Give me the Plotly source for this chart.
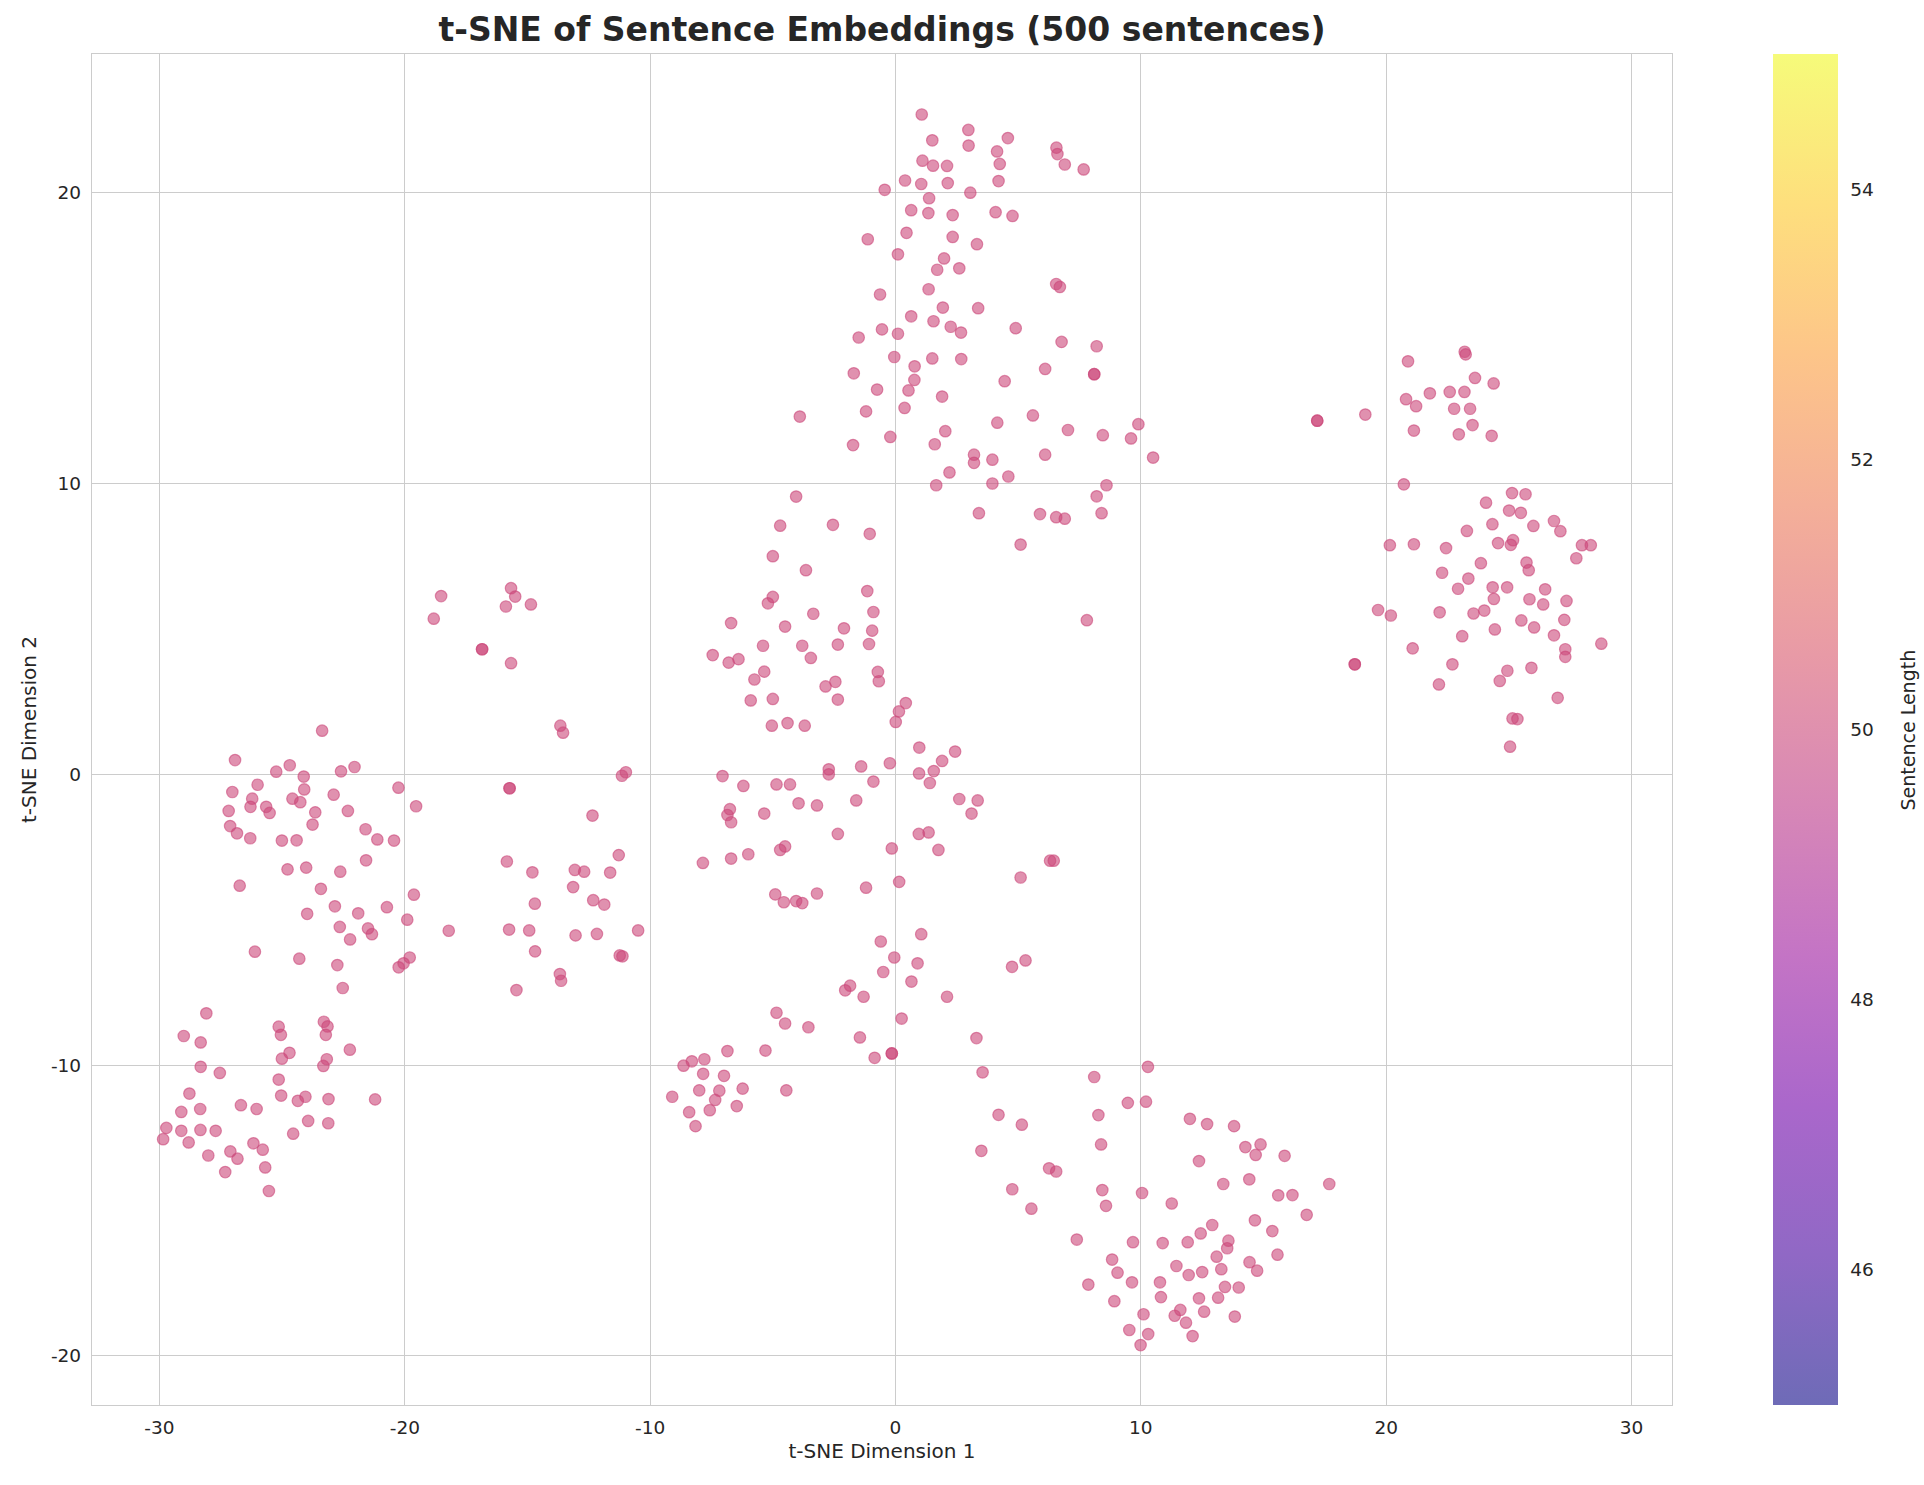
import plotly.graph_objects as go
import plotly.express as px

# ---- data (t-SNE coordinates) ----
top_x = [1.07, 2.97, 2.98, 4.58, 1.5, 4.14, 4.25, 4.2, 6.56, 6.6, 6.9, 7.67, 1.1, 1.53, 2.1, 0.39, 1.05, 2.13,
         -0.44, 3.05, 1.37, 0.64, 1.34, 2.33, 4.08, 4.77, -1.13, 0.45, 2.33, 3.32, 0.1, 1.98, 1.7, 2.6, 6.55, 6.7,
         -0.63, 1.35, 1.93, 3.37, 0.64, 1.55, -0.55, 0.1, -1.5, 2.25, 2.67, 4.9, 6.77, 8.2, -0.05, 1.5, 2.68,
         0.78, 0.77, 0.53, 6.1, 8.1, 8.1, -1.7, 4.45, -0.75, 1.9, 0.37, -1.2, 5.6, 4.15, 9.9, -0.21, 2.03, 7.03,
         8.45, 9.6, -1.73, 1.6, 10.5, 6.1, 3.2, 3.2, 3.95, 4.6, 2.2, 1.66, 3.95, 8.6, 8.2, 8.4, 3.4, 5.89, 6.55,
         6.9, 5.1, -3.9, 7.8]
top_y = [22.69, 22.16, 21.62, 21.88, 21.8, 21.42, 20.99, 20.4, 21.55, 21.33, 20.97, 20.8, 21.1, 20.93, 20.92,
         20.42, 20.3, 20.33, 20.1, 20.0, 19.81, 19.4, 19.3, 19.23, 19.33, 19.2, 18.4, 18.62, 18.48, 18.23, 17.88,
         17.74, 17.35, 17.4, 16.86, 16.76, 16.5, 16.68, 16.05, 16.03, 15.75, 15.58, 15.3, 15.15, 15.02, 15.39,
         15.19, 15.34, 14.87, 14.72, 14.35, 14.3, 14.28, 14.03, 13.56, 13.2, 13.94, 13.76, 13.76, 13.79, 13.52,
         13.23, 12.99, 12.6, 12.48, 12.34, 12.09, 12.04, 11.6, 11.8, 11.84, 11.66, 11.55, 11.32, 11.35, 10.89,
         10.99, 10.99, 10.71, 10.82, 10.24, 10.38, 9.94, 10.0, 9.94, 9.56, 8.98, 8.98, 8.95, 8.84, 8.79, 7.9,
         12.3, 5.3]

right_x = [23.2, 23.24, 20.89, 23.62, 24.38, 21.78, 22.59, 23.19, 20.81, 21.22, 22.77, 23.42, 19.15, 23.52,
           21.13, 22.96, 24.3, 17.19, 17.19, 20.72, 25.13, 25.68, 24.07, 25.01, 25.49, 24.33, 26.0, 26.84, 27.1,
           23.29, 24.56, 25.17, 25.08, 20.15, 21.13, 22.44, 27.98, 28.34, 27.75, 23.86, 25.72, 25.81, 22.28,
           23.35, 22.93, 24.34, 24.93, 24.39, 26.48, 25.84, 26.4, 27.35, 19.67, 20.19, 22.18, 23.56, 24.0, 25.51,
           26.03, 27.26, 24.43, 23.1, 26.84, 28.77, 21.08, 27.3, 27.3, 18.72, 18.72, 22.7, 22.15, 24.94, 24.63,
           25.92, 26.99, 25.15, 25.35, 25.05]
right_y = [14.53, 14.44, 14.2, 13.63, 13.44, 13.1, 13.15, 13.15, 12.9, 12.66, 12.57, 12.57, 12.37, 12.01,
           11.82, 11.69, 11.64, 12.16, 12.16, 9.97, 9.67, 9.63, 9.34, 9.07, 8.99, 8.6, 8.54, 8.71, 8.36, 8.37,
           7.95, 8.05, 7.89, 7.88, 7.91, 7.78, 7.88, 7.88, 7.43, 7.26, 7.28, 7.02, 6.93, 6.73, 6.38, 6.43, 6.43,
           6.03, 6.36, 6.02, 5.84, 5.96, 5.65, 5.46, 5.57, 5.53, 5.63, 5.29, 5.05, 5.31, 4.98, 4.75, 4.78, 4.49,
           4.33, 4.3, 4.04, 3.78, 3.78, 3.78, 3.09, 3.56, 3.21, 3.66, 2.63, 1.92, 1.9, 0.95]

center_x = [-4.05, -4.7, -2.55, -1.05, -5.0, -3.65, -1.15, -5.0, -5.2, -3.35, -0.9, -6.7, -4.5, -2.1, -0.95,
            -5.4, -3.8, -2.35, -1.08, -7.45, -6.8, -6.4, -3.45, -5.35, -5.75, -0.72, -0.68, -2.85, -2.45, -5.9,
            -5.0, -2.35, 0.42, 0.14, 0.01, -5.04, -4.4, -3.7, 0.97, 1.9, 2.43, 1.56, 0.96, -0.23, -1.4, -2.72,
            -2.72, -7.05, -6.2, -4.85, -4.3, -0.9, 1.4, 2.6, 3.35, 3.1, -6.75, -6.85, -6.7, -5.35, -3.95, -3.2,
            -1.6, -2.35, -0.15, 0.95, 1.35, 1.75, 6.3, 6.45, 5.1, -7.85, -6.7, -6.0, -4.7, -4.5, 0.15, -1.2,
            -4.9, -4.55, -4.05, -3.8, -3.2, 1.05, -0.6, -0.05, 0.9, -0.5, 0.65, 4.75, 5.3, -1.85, -2.05, -1.3,
            2.1, -4.85, -4.5, -3.55, 0.25, -1.45, 3.3, -0.85, -0.15, -0.15, 3.55, -4.45]
center_y = [9.55, 8.55, 8.58, 8.27, 7.5, 7.02, 6.3, 6.1, 5.88, 5.52, 5.58, 5.2, 5.08, 5.02, 4.94, 4.42, 4.42,
            4.46, 4.48, 4.1, 3.84, 3.96, 4.0, 3.53, 3.26, 3.52, 3.2, 3.02, 3.18, 2.54, 2.59, 2.57, 2.45, 2.16,
            1.8, 1.67, 1.76, 1.67, 0.92, 0.46, 0.78, 0.11, 0.03, 0.38, 0.27, 0.17, 0.0, -0.06, -0.4, -0.35,
            -0.35, -0.25, -0.3, -0.85, -0.9, -1.35, -1.2, -1.4, -1.65, -1.35, -1.0, -1.07, -0.9, -2.05, -2.55,
            -2.05, -2.0, -2.6, -2.97, -2.97, -3.55, -3.05, -2.9, -2.75, -2.6, -2.48, -3.7, -3.9, -4.13, -4.4,
            -4.36, -4.43, -4.1, -5.5, -5.75, -6.3, -6.5, -6.8, -7.13, -6.62, -6.4, -7.27, -7.43, -7.65, -7.65,
            -8.2, -8.57, -8.7, -8.4, -9.05, -9.07, -9.75, -9.6, -9.6, -10.25, -10.87]

lower_x = [-6.85, -5.3, -8.64, -8.3, -7.79, -7.84, -6.99, -9.1, -8.0, -7.18, -6.23, -7.35, -7.57, -6.47,
           -8.41, -8.15]
lower_y = [-9.52, -9.5, -10.02, -9.87, -9.8, -10.3, -10.37, -11.09, -10.87, -10.88, -10.81, -11.2, -11.55,
           -11.41, -11.62, -12.1]

br_x = [8.1, 10.29, 9.47, 10.21, 4.2, 5.15, 8.27, 12.0, 12.7, 13.8, 3.5, 8.38, 14.26, 14.88, 14.68, 15.86,
        12.37, 6.26, 6.55, 4.76, 8.43, 10.05, 13.36, 14.42, 17.68, 15.6, 16.18, 5.54, 8.58, 11.26, 16.76, 14.65,
        15.36, 12.91, 12.44, 7.39, 9.68, 10.89, 11.91, 13.57, 13.52, 15.57, 13.09, 8.83, 11.45, 13.28, 14.43,
        14.74, 9.05, 11.95, 12.5, 7.86, 9.64, 10.78, 13.43, 13.99, 8.92, 10.82, 12.37, 13.15, 10.11, 11.61,
        11.38, 12.58, 11.84, 13.83, 9.53, 10.3, 12.11, 9.99]
br_y = [-10.41, -10.06, -11.3, -11.26, -11.71, -12.05, -11.72, -11.85, -12.03, -12.1, -12.95, -12.73, -12.82,
        -12.73, -13.09, -13.12, -13.3, -13.55, -13.66, -14.27, -14.3, -14.4, -14.09, -13.93, -14.09, -14.48,
        -14.47, -14.94, -14.84, -14.76, -15.15, -15.34, -15.71, -15.5, -15.79, -16.0, -16.09, -16.12, -16.09,
        -16.04, -16.3, -16.52, -16.59, -16.69, -16.91, -17.02, -16.78, -17.07, -17.14, -17.22, -17.12, -17.55,
        -17.47, -17.47, -17.63, -17.65, -18.12, -17.98, -18.02, -18.0, -18.57, -18.42, -18.62, -18.48, -18.86,
        -18.65, -19.11, -19.25, -19.32, -19.63]

left_x = [-23.37, -26.92, -24.69, -25.24, -24.12, -22.6, -22.05, -26.0, -24.1, -27.03, -20.26, -26.22, -26.29,
          -24.58, -24.26, -22.9, -25.65, -25.51, -27.18, -23.65, -19.54, -22.32, -23.76, -27.12, -26.84, -26.3,
          -25.01, -24.41, -21.6, -21.12, -20.44, -21.58, -24.78, -24.02, -22.63, -26.73, -23.42, -19.63,
          -22.85, -20.73, -23.98, -21.9, -19.9, -22.65, -21.5, -21.34, -22.23, -18.21, -26.11, -24.3, -22.75,
          -19.8, -20.05, -20.25, -22.53]
left_y = [1.5, 0.49, 0.31, 0.09, -0.08, 0.1, 0.25, -0.36, -0.52, -0.61, -0.46, -0.84, -1.12, -0.84, -0.96,
          -0.7, -1.12, -1.33, -1.26, -1.31, -1.1, -1.26, -1.73, -1.78, -2.03, -2.2, -2.28, -2.27, -1.89, -2.24,
          -2.28, -2.96, -3.27, -3.21, -3.35, -3.83, -3.94, -4.14, -4.54, -4.57, -4.8, -4.78, -5.0, -5.25, -5.3,
          -5.5, -5.68, -5.38, -6.1, -6.34, -6.56, -6.3, -6.5, -6.64, -7.35]

bl_x = [-28.09, -29.01, -28.32, -28.32, -27.54, -28.78, -29.11, -28.34, -26.68, -26.04, -29.72, -29.85, -29.11,
        -28.81, -28.33, -27.71, -28.01, -27.11, -26.82, -27.32, -26.17, -25.79, -25.69, -25.54, -25.14, -25.05,
        -24.7, -25.01, -23.3, -23.15, -23.22, -23.18, -23.32, -22.24, -25.14, -25.04, -24.36, -24.05, -23.11,
        -21.21, -23.94, -23.12, -24.55]
bl_y = [-8.22, -9.0, -9.22, -10.06, -10.27, -10.98, -11.61, -11.51, -11.38, -11.51, -12.16, -12.55, -12.26,
        -12.66, -12.23, -12.26, -13.11, -12.97, -13.22, -13.68, -12.69, -12.91, -13.52, -14.33, -8.68, -8.96,
        -9.58, -9.78, -8.51, -8.67, -8.96, -9.8, -10.03, -9.47, -10.5, -11.05, -11.23, -11.09, -11.17, -11.18,
        -11.92, -12.0, -12.36]

midleft_x = [-18.52, -18.82, -15.67, -15.5, -15.88, -14.86, -16.85, -16.85, -15.67, -13.66, -13.55, -10.99,
             -11.15, -15.73, -15.73, -12.35, -11.28, -15.84, -14.8, -13.07, -12.69, -11.63, -13.14, -14.7,
             -12.32, -11.87, -15.75, -14.93, -13.04, -12.17, -10.49, -14.69, -11.24, -11.13, -13.68, -13.63,
             -15.45]
midleft_y = [6.13, 5.35, 6.4, 6.11, 5.77, 5.84, 4.3, 4.3, 3.82, 1.67, 1.43, 0.07, -0.05, -0.48, -0.48, -1.42,
             -2.78, -3.0, -3.37, -3.29, -3.35, -3.38, -3.88, -4.45, -4.33, -4.48, -5.34, -5.37, -5.54, -5.49,
             -5.37, -6.09, -6.23, -6.26, -6.87, -7.1, -7.42]

x_vals = top_x + right_x + center_x + lower_x + br_x + left_x + bl_x + midleft_x
y_vals = top_y + right_y + center_y + lower_y + br_y + left_y + bl_y + midleft_y
sentence_length = [50] * len(x_vals)  # every sentence has the same length (uniform colour)

x_ticks = [-30, -20, -10, 0, 10, 20, 30]
y_ticks = [-20, -10, 0, 10, 20]
cbar_ticks = [46, 48, 50, 52, 54]

# ---- styling ----
def hex_to_rgba(h, a):
    h = h.lstrip('#')
    r, g, b = int(h[0:2], 16), int(h[2:4], 16), int(h[4:6], 16)
    return f"rgba({r},{g},{b},{a})"

def hex_blend(h, a):
    h = h.lstrip('#')
    r, g, b = int(h[0:2], 16), int(h[2:4], 16), int(h[4:6], 16)
    return "rgb({},{},{})".format(*[round(a * c + (1 - a) * 255) for c in (r, g, b)])

plasma = px.colors.sequential.Plasma
n = len(plasma)
alpha = 0.6
scale_rgba = [[i / (n - 1), hex_to_rgba(c, alpha)] for i, c in enumerate(plasma)]
scale_blend = [[i / (n - 1), hex_blend(c, alpha)] for i, c in enumerate(plasma)]

FONT = "DejaVu Sans"
TXT = "#262626"
GRID = "#cccccc"
L, R, T, B = 92, 1672, 54, 1405
PW = R - L

fig = go.Figure()
fig.add_trace(go.Scatter(
    x=x_vals, y=y_vals, mode="markers",
    marker=dict(
        size=11.5,
        color=sentence_length, colorscale=scale_rgba, cmin=45, cmax=55,
        line=dict(width=1.2, color=sentence_length, colorscale=scale_rgba, cmin=45, cmax=55),
        showscale=False,
    ),
    showlegend=False, hoverinfo="skip",
))
# colour bar (opaque equivalent of the translucent scale)
fig.add_trace(go.Scatter(
    x=[x_vals[0]], y=[y_vals[0]], mode="markers",
    marker=dict(
        size=0.1, opacity=0,
        color=[50], colorscale=scale_blend, cmin=45, cmax=55, showscale=True,
        colorbar=dict(
            x=(1773 - L) / PW, xanchor="left", xref="paper", xpad=0,
            y=0.5, yanchor="middle", len=1.0, lenmode="fraction", ypad=0,
            thickness=65, outlinewidth=0,
            tickvals=cbar_ticks, ticktext=[str(t) for t in cbar_ticks],
            ticks="outside", ticklen=9, tickcolor="white",
            tickfont=dict(family=FONT, size=18.5, color=TXT),
        ),
    ),
    showlegend=False, hoverinfo="skip",
))

fig.add_annotation(
    text="Sentence Length", textangle=-90,
    x=(1907 - L) / PW, xref="paper", xanchor="center",
    y=0.5, yref="paper", yanchor="middle", showarrow=False,
    font=dict(family=FONT, size=19, color=TXT),
)

fig.update_layout(
    width=1924, height=1485,
    margin=dict(l=L, r=1924 - R, t=T, b=1485 - B),
    paper_bgcolor="white", plot_bgcolor="white",
    font=dict(family=FONT, size=18, color=TXT),
    title=dict(text="<b>t-SNE of Sentence Embeddings (500 sentences)</b>",
               x=(L + R) / 2 / 1924, xanchor="center", y=1 - 29 / 1485, yanchor="middle",
               font=dict(family=FONT, size=33, color=TXT)),
)
fig.update_xaxes(
    range=[-32.75, 31.65], tickvals=x_ticks, ticktext=[str(t) for t in x_ticks],
    showgrid=True, gridcolor=GRID, gridwidth=1.3, zeroline=False,
    showline=True, linecolor=GRID, linewidth=1.3, mirror=True,
    ticks="outside", ticklen=6, tickcolor="white",
    tickfont=dict(family=FONT, size=18.5, color=TXT),
    title=dict(text="t-SNE Dimension 1", font=dict(family=FONT, size=20, color=TXT), standoff=6),
)
fig.update_yaxes(
    range=[-21.69, 24.77], tickvals=y_ticks, ticktext=[str(t) for t in y_ticks],
    showgrid=True, gridcolor=GRID, gridwidth=1.3, zeroline=False,
    showline=True, linecolor=GRID, linewidth=1.3, mirror=True,
    ticks="outside", ticklen=6, tickcolor="white",
    tickfont=dict(family=FONT, size=18.5, color=TXT),
    title=dict(text="t-SNE Dimension 2", font=dict(family=FONT, size=20, color=TXT), standoff=8),
)

fig.write_html("out.html")
